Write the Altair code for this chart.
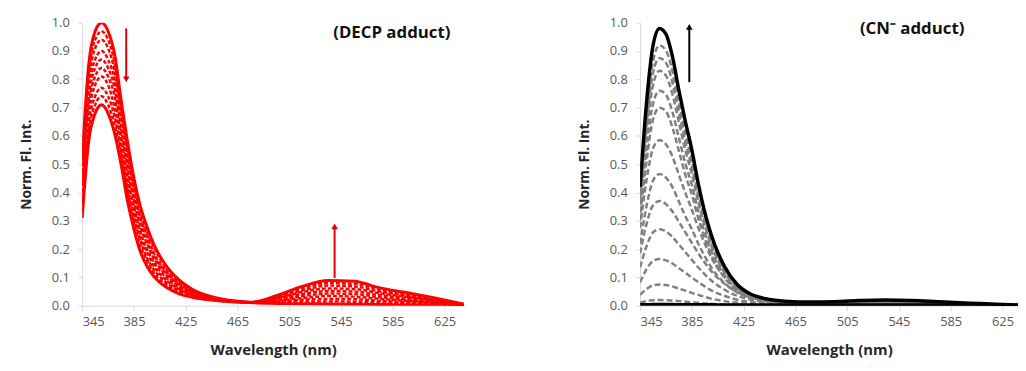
import altair as alt
import pandas as pd

# wavelengths (nm)
wl = [345, 350, 355, 360, 365, 370, 375, 380, 385, 390, 395, 400, 410, 420, 430,
      445, 460, 475, 495, 515, 535, 555, 575, 600, 620, 640]

# ---- left panel (DECP adduct): first and last curves solid, others dashed ----
decp_first = [.52, .85, .97, 1.00, .97, .89, .73, .58, .45, .35, .28, .22, .14, .09, .058,
              .032, .018, .011, .008, .007, .006, .005, .004, .003, .002, .001]
decp_mid = [
    [.50, .82, .94, .97, .94, .86, .70, .56, .43, .33, .26, .21, .13, .085, .055,
     .031, .018, .012, .011, .014, .015, .014, .011, .007, .005, .001],
    [.47, .79, .91, .94, .91, .83, .68, .53, .41, .31, .25, .19, .12, .079, .052,
     .029, .017, .012, .014, .021, .024, .023, .017, .012, .007, .002],
    [.45, .76, .87, .90, .87, .80, .65, .51, .39, .30, .23, .18, .115, .074, .049,
     .028, .017, .012, .017, .027, .034, .032, .024, .016, .010, .002],
    [.43, .73, .84, .87, .84, .77, .63, .49, .37, .28, .22, .17, .107, .069, .046,
     .027, .016, .012, .020, .034, .043, .041, .030, .020, .012, .003],
    [.40, .70, .81, .84, .81, .74, .60, .46, .35, .26, .20, .156, .098, .063, .042,
     .025, .016, .012, .023, .041, .052, .050, .037, .025, .015, .003],
    [.38, .67, .78, .81, .78, .70, .58, .44, .33, .24, .19, .143, .090, .058, .039,
     .024, .015, .012, .026, .048, .061, .059, .044, .029, .017, .004],
    [.36, .64, .74, .77, .74, .67, .55, .42, .31, .23, .17, .130, .082, .053, .036,
     .023, .015, .012, .029, .054, .071, .068, .050, .033, .020, .004],
    [.33, .61, .71, .74, .71, .64, .53, .40, .29, .21, .16, .118, .073, .047, .033,
     .021, .014, .012, .032, .061, .080, .077, .057, .038, .022, .005],
]
decp_last = [.31, .58, .68, .71, .68, .61, .50, .37, .27, .19, .14, .105, .065, .042, .030,
             .020, .014, .012, .035, .068, .089, .086, .063, .042, .025, .005]

# ---- right panel (CN- adduct): first and last black solid, others grey dashed ----
cn_first = [.003, .003, .004, .004, .004, .004, .003, .003, .003, .003, .003, .003, .002,
            .002, .002, .002, .002, .002, .002, .002, .002, .002, .002, .001, .001, .001]
cn_mid = [
    [.010, .016, .019, .020, .019, .018, .016, .014, .012, .010, .008, .007, .004, .003,
     .002, .001, .001, .001, .001, .001, .001, .001, .001, .000, .000, .000],
    [.038, .059, .072, .075, .073, .068, .060, .053, .045, .038, .031, .025, .016, .010,
     .006, .003, .002, .002, .002, .002, .002, .002, .002, .001, .001, .000],
    [.083, .129, .158, .165, .160, .149, .132, .116, .099, .083, .068, .054, .035, .021,
     .013, .007, .005, .004, .004, .005, .005, .005, .004, .002, .001, .000],
    [.135, .211, .259, .270, .262, .243, .216, .189, .162, .135, .111, .089, .057, .035,
     .022, .012, .008, .007, .007, .008, .008, .008, .006, .004, .002, .001],
    [.185, .289, .355, .370, .359, .333, .296, .259, .222, .185, .152, .122, .078, .048,
     .030, .017, .011, .009, .009, .010, .011, .010, .008, .006, .003, .001],
    [.219, .353, .442, .465, .453, .419, .367, .316, .270, .219, .174, .135, .081, .047,
     .028, .015, .010, .009, .009, .011, .012, .011, .008, .006, .003, .001],
    [.275, .445, .556, .585, .570, .527, .462, .398, .339, .275, .219, .170, .102, .059,
     .035, .019, .013, .011, .011, .013, .015, .013, .011, .007, .004, .001],
    [.301, .511, .658, .700, .686, .630, .546, .462, .392, .308, .238, .179, .100, .054,
     .030, .015, .011, .009, .010, .013, .014, .013, .010, .006, .004, .001],
    [.327, .555, .714, .760, .745, .684, .593, .502, .426, .334, .258, .194, .109, .059,
     .033, .017, .011, .010, .011, .014, .015, .014, .011, .007, .004, .002],
    [.357, .606, .780, .830, .813, .747, .647, .548, .465, .365, .282, .212, .119, .064,
     .036, .018, .012, .011, .012, .015, .017, .015, .012, .007, .004, .002],
    [.376, .639, .823, .875, .858, .788, .683, .578, .490, .385, .298, .223, .125, .067,
     .038, .019, .013, .011, .012, .016, .018, .016, .012, .008, .004, .002],
    [.396, .672, .865, .920, .902, .828, .718, .607, .515, .405, .313, .235, .132, .071,
     .040, .020, .014, .012, .013, .017, .018, .017, .013, .008, .005, .002],
]
cn_last = [.42, .72, .92, .98, .96, .88, .76, .65, .55, .43, .33, .25, .14, .075, .042,
           .022, .015, .013, .014, .018, .020, .018, .014, .009, .005, .002]

# arrows: x position, start y, end y (head at end), head shape
decp_arrows_x = [379, 540]
decp_arrows_y0 = [0.98, 0.098]
decp_arrows_y1 = [0.80, 0.28]
decp_arrows_head = ["triangle-down", "triangle-up"]
cn_arrow_x = [383]
cn_arrow_y0 = [0.79]
cn_arrow_y1 = [0.985]
cn_arrow_head = ["triangle-up"]

x_ticks = [345, 385, 425, 465, 505, 545, 585, 625]
y_ticks = [0.0, 0.1, 0.2, 0.3, 0.4, 0.5, 0.6, 0.7, 0.8, 0.9, 1.0]

FONT = "Open Sans"


def long(curves, prefix):
    rows = []
    for i, c in enumerate(curves):
        for w, v in zip(wl, c):
            rows.append({"wl": w, "v": v, "curve": f"{prefix}{i}"})
    return pd.DataFrame(rows)


def x_axis():
    return alt.Axis(values=x_ticks, title="Wavelength (nm)", tickSize=5,
                    labelPadding=5, titlePadding=14)


def y_axis():
    return alt.Axis(values=y_ticks, format=".1f", title="Norm. Fl. Int.",
                    tickSize=4, labelPadding=9, titlePadding=18, labelOverlap=False)


Y_SCALE = alt.Scale(domain=[0, 1], nice=False)


def panel(solid_df, dashed_df, solid_color, dash_color, dash_w, dash_pattern, solid_w,
          arrows, arrow_color, title, title_x, title_y, domain, width):
    xs = alt.Scale(domain=domain, nice=False, zero=False)
    x = alt.X("wl:Q", scale=xs, axis=x_axis())
    y = alt.Y("v:Q", scale=Y_SCALE, axis=y_axis())
    ax = alt.X("ax:Q", scale=xs, axis=x_axis())
    ay0 = alt.Y("ay0:Q", scale=Y_SCALE, axis=y_axis())
    ay1 = alt.Y("ay1:Q", scale=Y_SCALE, axis=y_axis())
    dashed = alt.Chart(dashed_df).mark_line(
        color=dash_color, strokeWidth=dash_w, strokeDash=dash_pattern,
        interpolate="monotone", clip=True
    ).encode(x=x, y=y, detail="curve:N")
    solid = alt.Chart(solid_df).mark_line(
        color=solid_color, strokeWidth=solid_w, interpolate="monotone", clip=True
    ).encode(x=x, y=y, detail="curve:N")
    rule = alt.Chart(arrows).mark_rule(color=arrow_color, strokeWidth=2).encode(
        x=ax, y=ay0, y2="ay1:Q")
    head = alt.Chart(arrows).mark_point(
        filled=True, size=45, color=arrow_color, opacity=1
    ).encode(x=ax, y=ay1, shape=alt.Shape("head:N", scale=None))
    txt = alt.Chart(pd.DataFrame({"t": [title]})).mark_text(
        font=FONT, fontSize=17, fontWeight="bold", color="#111111"
    ).encode(text="t:N", x=alt.value(title_x), y=alt.value(title_y))
    return alt.layer(dashed, solid, rule, head, txt).properties(width=width, height=286)


left_solid = long([decp_first, decp_last], "s")
left_dashed = long(decp_mid, "d")
left_arrows = pd.DataFrame({"ax": decp_arrows_x, "ay0": decp_arrows_y0,
                            "ay1": decp_arrows_y1, "head": decp_arrows_head})

right_solid = long([cn_first, cn_last], "s")
right_dashed = long(cn_mid, "d")
right_arrows = pd.DataFrame({"ax": cn_arrow_x, "ay0": cn_arrow_y0,
                             "ay1": cn_arrow_y1, "head": cn_arrow_head})

left = panel(left_solid, left_dashed, "#ff0000", "#ff0000", 2.5, [4, 2], 3,
             left_arrows, "#e00000", "(DECP adduct)", 313, 10,
             [345, 640], 386)
right = panel(right_solid, right_dashed, "#000000", "#808080", 2.5, [6, 3], 3.5,
              right_arrows, "#000000", "(CN\u207b adduct)", 275, 6,
              [345, 637], 382)

chart = alt.hconcat(left, right, spacing=114).properties(
    padding={"left": 11, "top": 7, "right": 0, "bottom": 0}
).configure_axis(
    grid=False, domainColor="#d9d9d9", tickColor="#d9d9d9",
    labelFont=FONT, labelFontSize=13, labelColor="#595959",
    titleFont=FONT, titleFontSize=15, titleFontWeight="bold", titleColor="#262626"
).configure_axisY(titleFontSize=14, labelOverlap=False).configure_view(strokeWidth=0)

chart.save("out.html", embed_options={"renderer": "svg", "actions": False})
